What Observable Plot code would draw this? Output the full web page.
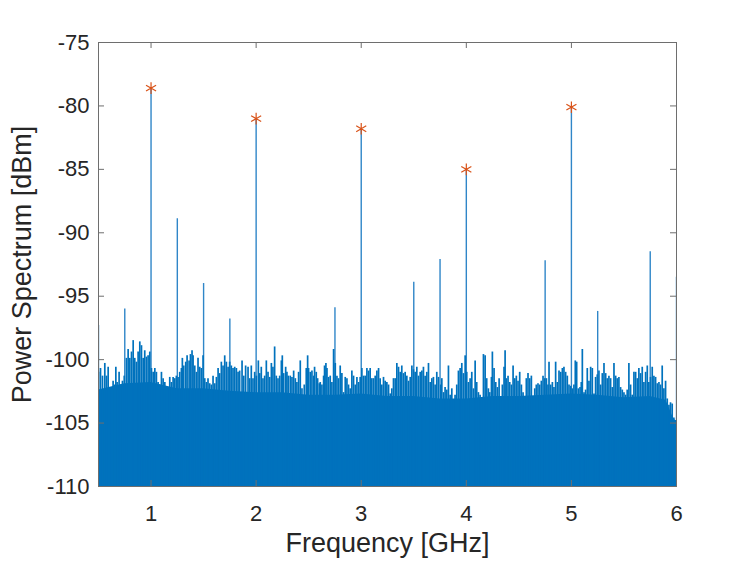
<!DOCTYPE html>
<html><head><meta charset="utf-8">
<script src="https://cdn.jsdelivr.net/npm/d3@7"></script>
<script src="https://cdn.jsdelivr.net/npm/@observablehq/plot@0.6"></script>
<style>html,body{margin:0;background:#fff}#chart svg{display:block}</style>
</head><body><div id="chart"></div>
<script>
// ---- data ----
const xTicks = [1, 2, 3, 4, 5, 6];
const yTicks = [-110, -105, -100, -95, -90, -85, -80, -75];

// harmonic peaks (marked with asterisks)
const harmonicFreq = [1, 2, 3, 4, 5];
const harmonicDb = [-78.6, -81.0, -81.8, -85.0, -80.1];

// all discrete spectral lines (GHz, dBm)
const spurFreq = [0.5, 0.75, 1, 1.25, 1.5, 1.75, 2, 2.75, 3, 3.5, 3.75, 4, 4.75, 5, 5.25, 5.75, 6];
const spurDb = [-97.3, -96.0, -78.6, -88.9, -94.0, -96.8, -81.0, -95.9, -81.8, -93.9, -92.1, -85.0, -92.2, -80.1, -96.2, -91.5, -93.5];

// solid noise floor level
const floorFreq = [0.5, 0.75, 1, 1.25, 1.5, 1.75, 2, 2.25, 2.5, 2.75, 3, 3.25, 3.5, 3.75, 4, 4.25, 4.5, 4.75, 5, 5.25, 5.5, 5.75, 5.9, 5.97, 6];
const floorDb = [-102.4, -101.9, -101.8, -102.3, -102.3, -102.5, -102.6, -102.6, -102.8, -102.8, -102.7, -102.9, -102.9, -103.1, -103.1, -102.9, -102.9, -102.8, -102.7, -102.8, -103.0, -102.9, -103.2, -104.6, -104.9];

// noise peaks [GHz, dBm]
const noisePeaks = [
[0.500,-101.0],[0.519,-100.7],[0.538,-101.3],[0.560,-100.3],[0.576,-101.3],[0.592,-100.6],[0.608,-102.8],[0.624,-102.3],[0.639,-101.7],[0.655,-102.0],
[0.665,-100.6],[0.677,-101.8],[0.696,-101.0],[0.709,-102.0],[0.728,-101.7],[0.745,-101.3],[0.766,-99.9],[0.782,-99.2],[0.798,-99.9],[0.814,-99.4],
[0.830,-98.5],[0.845,-99.9],[0.861,-100.2],[0.877,-99.4],[0.893,-98.6],[0.909,-98.9],[0.925,-99.9],[0.940,-99.3],[0.956,-99.8],[0.972,-99.7],
[0.988,-99.4],[1.004,-100.7],[1.020,-101.0],[1.036,-100.7],[1.051,-101.0],[1.067,-101.8],[1.083,-102.0],[1.099,-101.0],[1.115,-101.5],[1.131,-101.8],
[1.146,-102.7],[1.162,-102.3],[1.178,-101.4],[1.194,-101.8],[1.210,-101.4],[1.226,-101.5],[1.241,-101.3],[1.257,-101.4],[1.273,-101.0],[1.289,-100.7],
[1.298,-99.9],[1.311,-100.5],[1.330,-100.2],[1.343,-99.7],[1.362,-100.1],[1.375,-99.6],[1.390,-99.3],[1.400,-99.7],[1.416,-100.5],[1.432,-101.0],
[1.447,-99.9],[1.463,-100.6],[1.479,-100.7],[1.495,-99.7],[1.511,-101.5],[1.527,-101.8],[1.542,-101.5],[1.558,-101.9],[1.574,-102.0],[1.590,-101.3],
[1.606,-101.9],[1.622,-101.4],[1.638,-100.7],[1.653,-101.1],[1.669,-100.2],[1.685,-100.5],[1.701,-99.7],[1.717,-100.2],[1.733,-100.6],[1.748,-100.2],
[1.764,-100.5],[1.780,-100.7],[1.796,-100.6],[1.812,-100.7],[1.828,-101.0],[1.843,-100.9],[1.866,-100.1],[1.882,-101.3],[1.900,-100.5],[1.923,-100.6],
[1.939,-101.5],[1.954,-100.5],[1.970,-101.5],[1.986,-101.0],[2.002,-101.3],[2.021,-100.1],[2.034,-101.1],[2.049,-100.6],[2.065,-101.5],[2.081,-101.3],
[2.097,-100.1],[2.113,-101.0],[2.129,-101.4],[2.145,-100.3],[2.160,-100.6],[2.176,-99.0],[2.192,-101.3],[2.208,-101.5],[2.224,-101.3],[2.240,-100.1],
[2.249,-99.7],[2.262,-101.1],[2.281,-100.6],[2.293,-101.0],[2.306,-101.3],[2.325,-101.3],[2.341,-101.4],[2.357,-100.9],[2.373,-101.5],[2.388,-101.8],
[2.404,-101.0],[2.420,-100.1],[2.436,-102.3],[2.445,-103.0],[2.458,-102.0],[2.477,-100.7],[2.490,-99.7],[2.499,-100.7],[2.515,-101.0],[2.531,-100.9],
[2.547,-101.3],[2.556,-100.6],[2.572,-101.0],[2.585,-101.5],[2.601,-101.9],[2.610,-101.8],[2.626,-102.0],[2.642,-101.3],[2.651,-100.5],[2.664,-100.3],
[2.674,-100.7],[2.689,-101.4],[2.705,-101.3],[2.721,-101.8],[2.737,-99.2],[2.753,-100.3],[2.769,-101.3],[2.784,-101.5],[2.800,-100.5],[2.816,-101.1],
[2.832,-102.6],[2.848,-101.4],[2.864,-101.5],[2.879,-102.0],[2.895,-102.3],[2.911,-100.9],[2.927,-101.3],[2.943,-102.0],[2.959,-101.4],[2.975,-101.8],
[2.990,-101.4],[3.006,-100.7],[3.022,-101.3],[3.038,-101.3],[3.054,-100.7],[3.070,-100.9],[3.085,-100.7],[3.101,-101.5],[3.117,-101.5],[3.133,-101.3],
[3.149,-100.9],[3.165,-100.7],[3.180,-101.5],[3.196,-102.0],[3.212,-101.4],[3.228,-101.7],[3.244,-101.8],[3.260,-102.0],[3.276,-102.7],[3.291,-102.3],
[3.307,-101.5],[3.323,-101.5],[3.339,-100.3],[3.355,-100.6],[3.371,-101.0],[3.386,-100.5],[3.402,-101.1],[3.418,-101.0],[3.434,-101.3],[3.450,-101.7],
[3.466,-101.4],[3.482,-100.5],[3.497,-100.8],[3.513,-101.0],[3.529,-100.6],[3.545,-101.3],[3.561,-101.0],[3.577,-100.9],[3.592,-100.6],[3.608,-101.3],
[3.624,-101.0],[3.640,-100.3],[3.656,-101.8],[3.672,-101.5],[3.687,-101.4],[3.703,-102.0],[3.719,-101.0],[3.735,-101.4],[3.757,-102.0],[3.767,-101.5],
[3.783,-102.6],[3.798,-102.2],[3.814,-102.4],[3.830,-100.5],[3.846,-102.8],[3.862,-102.3],[3.878,-103.3],[3.893,-102.8],[3.909,-102.0],[3.925,-100.9],
[3.941,-100.7],[3.957,-100.3],[3.973,-101.1],[3.989,-99.7],[4.004,-101.0],[4.020,-101.8],[4.036,-101.5],[4.052,-101.0],[4.068,-102.3],[4.084,-100.1],
[4.099,-101.8],[4.115,-102.6],[4.131,-102.8],[4.147,-103.0],[4.163,-99.6],[4.179,-99.7],[4.194,-101.5],[4.210,-102.3],[4.223,-102.6],[4.239,-101.4],
[4.248,-99.4],[4.264,-100.7],[4.280,-101.8],[4.296,-102.2],[4.312,-101.5],[4.327,-103.1],[4.343,-102.0],[4.359,-100.6],[4.369,-99.3],[4.381,-101.5],
[4.397,-101.3],[4.413,-101.8],[4.429,-102.0],[4.445,-100.5],[4.461,-101.5],[4.476,-101.3],[4.492,-101.7],[4.508,-101.0],[4.524,-102.0],[4.540,-102.6],
[4.556,-103.0],[4.571,-101.5],[4.587,-101.1],[4.603,-101.5],[4.619,-101.3],[4.635,-103.0],[4.651,-102.3],[4.666,-102.0],[4.682,-101.9],[4.698,-102.0],
[4.714,-101.7],[4.730,-101.3],[4.746,-101.5],[4.762,-101.5],[4.777,-102.0],[4.787,-100.2],[4.803,-102.0],[4.819,-101.8],[4.834,-102.2],[4.850,-100.2],
[4.866,-101.8],[4.882,-100.9],[4.898,-101.0],[4.914,-100.7],[4.929,-100.6],[4.945,-101.0],[4.961,-101.3],[4.977,-102.0],[4.993,-102.1],[5.009,-102.3],
[5.024,-102.0],[5.037,-100.1],[5.050,-100.2],[5.066,-102.3],[5.082,-102.2],[5.094,-101.8],[5.104,-99.2],[5.120,-102.6],[5.135,-102.4],[5.151,-100.7],
[5.167,-101.7],[5.183,-100.6],[5.199,-100.7],[5.215,-102.7],[5.230,-101.4],[5.246,-101.2],[5.262,-100.9],[5.278,-102.0],[5.294,-101.1],[5.310,-100.3],
[5.326,-101.1],[5.341,-101.5],[5.357,-101.3],[5.373,-101.5],[5.389,-102.2],[5.405,-100.3],[5.421,-101.3],[5.436,-101.5],[5.452,-101.4],[5.468,-102.2],
[5.484,-102.4],[5.500,-102.6],[5.516,-102.8],[5.531,-102.4],[5.547,-100.3],[5.563,-102.0],[5.579,-102.8],[5.595,-101.0],[5.611,-101.0],[5.627,-101.5],
[5.642,-100.7],[5.658,-101.1],[5.674,-100.6],[5.690,-101.8],[5.706,-101.0],[5.722,-100.5],[5.737,-101.8],[5.753,-101.4],[5.769,-100.6],[5.785,-101.3],
[5.801,-101.4],[5.817,-101.9],[5.833,-101.8],[5.848,-102.0],[5.864,-100.5],[5.880,-102.3],[5.896,-101.7],[5.912,-103.1],[5.928,-103.6],[5.943,-103.4],
[5.959,-103.5],[5.975,-104.6],[5.992,-104.8]
];

// ---- build tables ----
const yDomain = [yTicks[0], yTicks[yTicks.length - 1]];
const base = yDomain[0];
const harmonics = harmonicFreq.map((f, i) => ({f, db: harmonicDb[i]}));
const spurs = spurFreq.map((f, i) => ({f, db: spurDb[i]}));
const floor = floorFreq.map((f, i) => ({f, db: floorDb[i]}));
const noise = noisePeaks.map(([f, db]) => ({f, db}));

const W = 747, H = 561, mL = 98, mR = 71, mT = 42, mB = 75;
const innerW = W - mL - mR, innerH = H - mT - mB, tickLen = 6;
const blue = "#0072BD", ink = "#262626", axisGray = "#6e6e6e";

const chart = Plot.plot({
  width: W, height: H,
  marginLeft: mL, marginRight: mR, marginTop: mT, marginBottom: mB,
  style: {fontFamily: "'Liberation Sans', Arial, Helvetica, sans-serif", color: ink, background: "#fff", overflow: "visible"},
  x: {domain: [0.5, 6]},
  y: {domain: yDomain},
  marks: [
    Plot.ruleX(spurs, {x: "f", y1: base, y2: "db", stroke: "#2f86c8", strokeWidth: 1.4, clip: true}),
    Plot.areaY(floor, {x: "f", y1: base, y2: "db", fill: blue, curve: "linear", clip: true}),
    Plot.ruleX(noise, {x: "f", y1: base, y2: "db", stroke: blue, strokeWidth: 1.7, clip: true}),
    Plot.frame({stroke: axisGray, strokeWidth: 1}),
    Plot.ruleY(yTicks, {y: d => d, insetRight: innerW - tickLen, stroke: axisGray}),
    Plot.ruleY(yTicks, {y: d => d, insetLeft: innerW - tickLen, stroke: axisGray}),
    Plot.ruleX(xTicks, {x: d => d, insetTop: innerH - tickLen, stroke: axisGray}),
    Plot.ruleX(xTicks, {x: d => d, insetBottom: innerH - tickLen, stroke: axisGray}),
    Plot.axisY({ticks: yTicks, tickSize: 0, tickPadding: 9, fontSize: 22, label: null, tickFormat: d => String(d), fill: ink}),
    Plot.axisX({ticks: xTicks, tickSize: 0, tickPadding: 19, fontSize: 22, label: null, tickFormat: d => String(d), fill: ink}),
    Plot.dot(harmonics, {x: "f", y: "db", symbol: "asterisk", stroke: "#D95319", r: 5.5, strokeWidth: 1.2}),
    Plot.text(["Frequency [GHz]"], {text: d => d, frameAnchor: "bottom", dy: 65, fontSize: 27, fill: ink}),
    Plot.text(["Power Spectrum [dBm]"], {text: d => d, frameAnchor: "left", textAnchor: "middle", rotate: -90, dx: -76, fontSize: 27, fill: ink})
  ]
});
document.getElementById("chart").appendChild(chart);
</script>
</body></html>
